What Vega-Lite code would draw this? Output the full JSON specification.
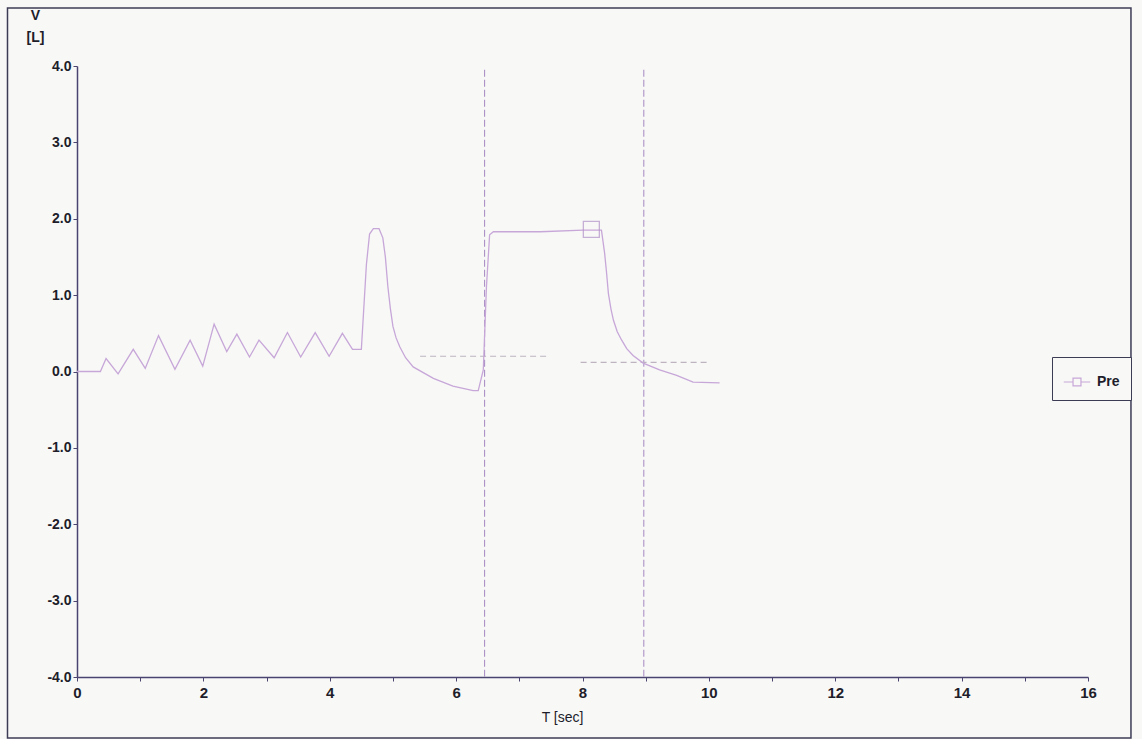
{
  "$schema": "https://vega.github.io/schema/vega-lite/v6.json",
  "width": 1011,
  "height": 611,
  "autosize": "none",
  "padding": {"left": 77, "top": 66, "right": 54, "bottom": 62},
  "background": "#f8f8f7",
  "config": {
    "view": {"stroke": null},
    "font": "Liberation Sans",
    "axis": {"domainColor": "#4a4470", "tickColor": "#4a4470", "labelColor": "#1e1e2a", "titleColor": "#1e1e2a", "grid": false, "labelFont": "Liberation Sans", "titleFont": "Liberation Sans", "domainWidth": 1.5, "tickWidth": 1}
  },
  "datasets": {
    "curve": [
      {"t": 0.0, "v": 0.0, "series": "Pre"},
      {"t": 0.37, "v": 0.0, "series": "Pre"},
      {"t": 0.46, "v": 0.17, "series": "Pre"},
      {"t": 0.65, "v": -0.03, "series": "Pre"},
      {"t": 0.89, "v": 0.29, "series": "Pre"},
      {"t": 1.08, "v": 0.04, "series": "Pre"},
      {"t": 1.29, "v": 0.47, "series": "Pre"},
      {"t": 1.55, "v": 0.03, "series": "Pre"},
      {"t": 1.79, "v": 0.41, "series": "Pre"},
      {"t": 1.99, "v": 0.07, "series": "Pre"},
      {"t": 2.17, "v": 0.62, "series": "Pre"},
      {"t": 2.37, "v": 0.26, "series": "Pre"},
      {"t": 2.53, "v": 0.49, "series": "Pre"},
      {"t": 2.73, "v": 0.19, "series": "Pre"},
      {"t": 2.88, "v": 0.41, "series": "Pre"},
      {"t": 3.12, "v": 0.18, "series": "Pre"},
      {"t": 3.33, "v": 0.51, "series": "Pre"},
      {"t": 3.54, "v": 0.19, "series": "Pre"},
      {"t": 3.77, "v": 0.51, "series": "Pre"},
      {"t": 3.99, "v": 0.2, "series": "Pre"},
      {"t": 4.2, "v": 0.5, "series": "Pre"},
      {"t": 4.36, "v": 0.29, "series": "Pre"},
      {"t": 4.5, "v": 0.29, "series": "Pre"},
      {"t": 4.58, "v": 1.4, "series": "Pre"},
      {"t": 4.63, "v": 1.8, "series": "Pre"},
      {"t": 4.69, "v": 1.87, "series": "Pre"},
      {"t": 4.78, "v": 1.87, "series": "Pre"},
      {"t": 4.84, "v": 1.75, "series": "Pre"},
      {"t": 4.88, "v": 1.5, "series": "Pre"},
      {"t": 4.92, "v": 1.11, "series": "Pre"},
      {"t": 4.96, "v": 0.82, "series": "Pre"},
      {"t": 5.0, "v": 0.59, "series": "Pre"},
      {"t": 5.05, "v": 0.44, "series": "Pre"},
      {"t": 5.11, "v": 0.32, "series": "Pre"},
      {"t": 5.2, "v": 0.18, "series": "Pre"},
      {"t": 5.32, "v": 0.06, "series": "Pre"},
      {"t": 5.64, "v": -0.09, "series": "Pre"},
      {"t": 5.95, "v": -0.19, "series": "Pre"},
      {"t": 6.27, "v": -0.25, "series": "Pre"},
      {"t": 6.35, "v": -0.25, "series": "Pre"},
      {"t": 6.43, "v": 0.02, "series": "Pre"},
      {"t": 6.48, "v": 1.11, "series": "Pre"},
      {"t": 6.53, "v": 1.79, "series": "Pre"},
      {"t": 6.59, "v": 1.83, "series": "Pre"},
      {"t": 7.33, "v": 1.83, "series": "Pre"},
      {"t": 8.01, "v": 1.85, "series": "Pre"},
      {"t": 8.3, "v": 1.85, "series": "Pre"},
      {"t": 8.35, "v": 1.55, "series": "Pre"},
      {"t": 8.38, "v": 1.3, "series": "Pre"},
      {"t": 8.41, "v": 1.02, "series": "Pre"},
      {"t": 8.45, "v": 0.82, "series": "Pre"},
      {"t": 8.49, "v": 0.67, "series": "Pre"},
      {"t": 8.55, "v": 0.52, "series": "Pre"},
      {"t": 8.62, "v": 0.41, "series": "Pre"},
      {"t": 8.7, "v": 0.3, "series": "Pre"},
      {"t": 8.8, "v": 0.21, "series": "Pre"},
      {"t": 8.96, "v": 0.11, "series": "Pre"},
      {"t": 9.22, "v": 0.02, "series": "Pre"},
      {"t": 9.49, "v": -0.05, "series": "Pre"},
      {"t": 9.75, "v": -0.14, "series": "Pre"},
      {"t": 10.17, "v": -0.15, "series": "Pre"}
    ],
    "cursors": [
      {"t": 6.45, "top": 3.95, "bottom": -4.0},
      {"t": 8.97, "top": 3.95, "bottom": -4.0}
    ],
    "levels": [
      {"t1": 5.43, "t2": 7.44, "v": 0.2},
      {"t1": 7.97, "t2": 10.0, "v": 0.12}
    ],
    "marker": [{"t": 8.14, "v": 1.86}],
    "frame": [{"x1": -1.1, "x2": 16.68, "y1": 4.76, "y2": -4.8}]
  },
  "layer": [
    {
      "data": {"name": "frame"},
      "mark": {"type": "rect", "fill": null, "stroke": "#3c3c55", "strokeWidth": 1.5, "clip": false},
      "encoding": {
        "x": {"field": "x1", "type": "quantitative", "scale": {"domain": [0, 16], "nice": false, "zero": false}},
        "x2": {"field": "x2"},
        "y": {"field": "y1", "type": "quantitative", "scale": {"domain": [-4, 4], "nice": false, "zero": false}},
        "y2": {"field": "y2"}
      }
    },
    {
      "data": {"name": "cursors"},
      "mark": {"type": "rule", "color": "#ad93c6", "strokeDash": [7, 3], "strokeWidth": 1.1},
      "encoding": {
        "x": {"field": "t", "type": "quantitative"},
        "y": {"field": "top", "type": "quantitative"},
        "y2": {"field": "bottom"}
      }
    },
    {
      "data": {"name": "levels"},
      "mark": {"type": "rule", "color": "#bdb4c0", "strokeDash": [6, 4], "strokeWidth": 1.1},
      "encoding": {
        "x": {"field": "t1", "type": "quantitative"},
        "x2": {"field": "t2"},
        "y": {"field": "v", "type": "quantitative"}
      }
    },
    {
      "data": {"name": "curve"},
      "mark": {"type": "line", "strokeWidth": 1.3, "interpolate": "linear"},
      "encoding": {
        "x": {
          "field": "t", "type": "quantitative",
          "scale": {"domain": [0, 16], "nice": false, "zero": false},
          "axis": {
            "title": "T  [sec]", "titleFontSize": 14, "titleFontWeight": "normal",
            "titleX": 485, "titleY": 40, "titleBaseline": "middle",
            "values": [0,1,2,3,4,5,6,7,8,9,10,11,12,13,14,15,16],
            "labelExpr": "datum.value % 2 == 0 ? format(datum.value, 'd') : ''",
            "labelFontSize": 15, "labelFontWeight": "bold", "labelPadding": 4, "tickSize": 4, "labelFlush": false
          }
        },
        "y": {
          "field": "v", "type": "quantitative",
          "scale": {"domain": [-4, 4], "nice": false, "zero": false},
          "axis": {
            "title": ["V", "[L]"], "titleAngle": 0, "titleFontSize": 14, "titleFontWeight": "bold",
            "titleAlign": "center", "titleBaseline": "top", "titleX": -42, "titleY": -58, "titleLineHeight": 22,
            "values": [-4,-3.5,-3,-2.5,-2,-1.5,-1,-0.5,0,0.5,1,1.5,2,2.5,3,3.5,4],
            "labelExpr": "datum.value % 1 == 0 ? ((datum.value < 0 ? '-' : '') + format(abs(datum.value), '.1f')) : ''",
            "labelFontSize": 14, "labelFontWeight": "bold", "labelPadding": 2, "tickSize": 4, "labelFlush": false
          }
        },
        "color": {
          "field": "series", "type": "nominal",
          "scale": {"domain": ["Pre"], "range": ["#c7a7d8"]},
          "legend": {
            "title": null, "orient": "none", "legendX": 975, "legendY": 291,
            "strokeColor": "#3c3c55", "fillColor": "#f8f8f7", "padding": 11,
            "labelFontSize": 14, "labelFontWeight": "bold", "labelColor": "#1e1e2a", "labelFont": "Liberation Sans", "labelOffset": 6,
            "symbolType": "M-1,0L-0.3,0M0.3,0L1,0M-0.3,-0.3L0.3,-0.3L0.3,0.3L-0.3,0.3Z",
            "symbolSize": 700, "symbolStrokeWidth": 1.2, "symbolFillColor": "transparent"
          }
        }
      }
    },
    {
      "data": {"name": "marker"},
      "mark": {"type": "square", "filled": false, "color": "#b393c8", "size": 256, "strokeWidth": 1.3},
      "encoding": {
        "x": {"field": "t", "type": "quantitative"},
        "y": {"field": "v", "type": "quantitative"}
      }
    }
  ]
}
